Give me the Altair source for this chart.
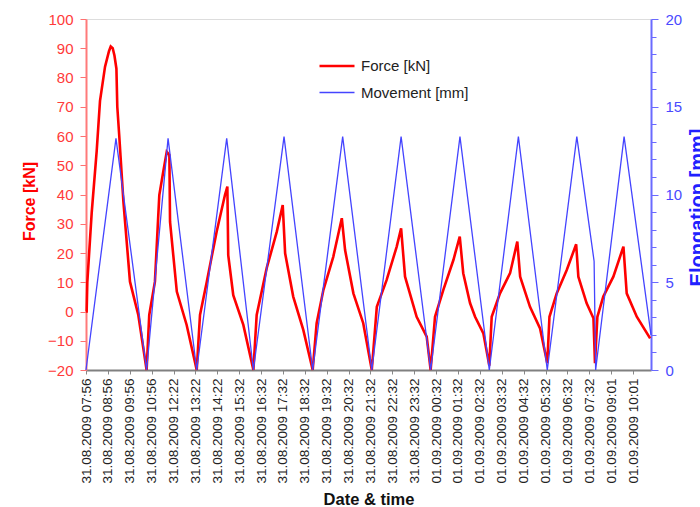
import json
import altair as alt
import pandas as pd

x_labels = [
    "31.08.2009 07:56", "31.08.2009 08:56", "31.08.2009 09:56", "31.08.2009 10:56",
    "31.08.2009 12:22", "31.08.2009 13:22", "31.08.2009 14:22", "31.08.2009 15:32",
    "31.08.2009 16:32", "31.08.2009 17:32", "31.08.2009 18:32", "31.08.2009 19:32",
    "31.08.2009 20:32", "31.08.2009 21:32", "31.08.2009 22:32", "31.08.2009 23:32",
    "01.09.2009 00:32", "01.09.2009 01:32", "01.09.2009 02:32", "01.09.2009 03:32",
    "01.09.2009 04:32", "01.09.2009 05:32", "01.09.2009 06:32", "01.09.2009 07:32",
    "01.09.2009 09:01", "01.09.2009 10:01",
]

# position along the category axis (label index units)
force_x = [0.00, 0.03, 0.06, 0.26, 0.49, 0.64, 0.87, 1.05, 1.13, 1.22, 1.30, 1.39, 1.43, 1.52, 1.71, 2.01, 2.39, 2.77,
           2.89, 3.15, 3.35, 3.53, 3.69, 3.81, 3.84, 4.15, 4.60, 5.06,
           5.21, 5.52, 5.97, 6.35, 6.46, 6.50, 6.73, 7.19, 7.65,
           7.80, 8.26, 8.72, 8.99, 9.10, 9.47, 9.93, 10.36,
           10.54, 10.85, 11.30, 11.69, 11.84, 12.22, 12.67, 13.06,
           13.29, 13.74, 14.20, 14.40, 14.58, 15.11, 15.57, 15.75,
           15.95, 16.33, 16.79, 17.08, 17.24, 17.55, 17.78, 18.16, 18.43,
           18.54, 18.92, 19.38, 19.71, 19.84, 20.29, 20.75, 21.08,
           21.18, 21.51, 21.97, 22.40, 22.50, 22.88, 23.19, 23.26,
           23.37, 23.64, 24.10, 24.56, 24.71, 25.17, 25.78]
force_kn = [0, 0, 10, 33.7, 55, 72, 83.7, 89.0, 90.6, 90.0, 87.5, 83, 70, 60, 37.5, 10.2, -1.2, -20,
            -1.2, 10.2, 39.8, 47.8, 54.6, 53.5, 30.7, 6.8, -4.6, -20,
            -1.2, 10.2, 27.3, 39.8, 42.7, 19.3, 5.6, -4.6, -20,
            -1.2, 14.9, 27.3, 36.4, 19.9, 5.1, -6.3, -20,
            -4, 7.4, 18.7, 31.9, 21, 6.2, -4, -20,
            1.6, 10.8, 22.2, 28.4, 11.9, -1.8, -8.6, -20,
            -1.8, 7.4, 17.6, 25.6, 13.1, 2.9, -1.8, -7.5, -18.5,
            -1.8, 6.2, 13.1, 23.9, 11.9, 1.6, -5.8, -17.7,
            -1.8, 6.2, 14.2, 23.0, 11.9, 2.8, -2.3, -17.7,
            -1.8, 5.1, 11.9, 22.2, 6.2, -1.8, -9.2]

move_x = [0.00, 1.37, 2.77, 3.75, 5.06, 6.43, 7.65, 9.05, 10.36, 11.73, 13.06, 14.40, 15.75,
          17.09, 18.43, 19.76, 21.08, 22.43, 23.22, 23.29, 24.59, 25.82]
move_mm = [0, 13.2, 0, 13.2, 0, 13.2, 0, 13.3, 0, 13.3, 0, 13.3, 0,
           13.3, 0, 13.3, 0, 13.3, 6.2, 0, 13.3, 2.0]

series_names = ["Force [kN]", "Movement [mm]"]
series_colors = ["#ff0000", "#4444ff"]
series_widths = [2.6, 1.3]

force_df = pd.DataFrame({"idx": force_x, "value": force_kn, "series": series_names[0]})
move_df = pd.DataFrame({"idx": move_x, "value": move_mm, "series": series_names[1]})

FONT = "Liberation Sans"
label_expr = json.dumps(x_labels).replace('"', "'") + "[datum.value]"

x_enc = alt.X(
    "idx:Q",
    scale=alt.Scale(domain=[0, 25.82], nice=False, zero=False),
    axis=alt.Axis(
        values=list(range(len(x_labels))), labelExpr=label_expr, labelAngle=270,
        labelFontSize=13.5, labelColor="#222222", labelPadding=4, labelFont=FONT,
        tickSize=4, tickColor="#888888", domainColor="#808080", domainWidth=2,
        grid=False, title="Date & time", titleFontSize=16.5, titleFontWeight="bold",
        titleColor="#111111", titleY=134, titleBaseline="alphabetic", titleFont=FONT,
        labelOverlap=False,
    ),
)

legend_spec = dict(
    orient="none", legendX=232, legendY=28, title=None, symbolType="stroke",
    symbolSize=1225, labelFontSize=15, labelColor="#222222", labelFont=FONT,
    labelOffset=5, padding=0, rowPadding=0,
)

color_enc = alt.Color(
    "series:N",
    scale=alt.Scale(domain=series_names, range=series_colors),
    legend=alt.Legend(**legend_spec),
)
width_enc = alt.StrokeWidth(
    "series:N",
    scale=alt.Scale(domain=series_names, range=series_widths),
    legend=alt.Legend(**legend_spec),
)

force_line = alt.Chart(force_df).mark_line().encode(
    x=x_enc,
    y=alt.Y(
        "value:Q",
        scale=alt.Scale(domain=[-20, 100], nice=False, zero=False),
        axis=alt.Axis(
            orient="left", values=list(range(-20, 101, 10)), grid=False,
            labelFontSize=15, labelColor="#ff3a3a", labelFont=FONT, labelPadding=7,
            tickSize=6, tickColor="#ff7070", domainColor="#ff7a7a", domainWidth=2,
            title="Force [kN]", titleColor="#ff0000", titleFontSize=16,
            titleFontWeight="bold", titleFont=FONT, titleAngle=270,
            titleBaseline="middle", titleAlign="center", titleX=-57, titleY=182,
        ),
    ),
    color=color_enc,
    strokeWidth=width_enc,
)

move_line = alt.Chart(move_df).mark_line().encode(
    x=x_enc,
    y=alt.Y(
        "value:Q",
        scale=alt.Scale(domain=[0, 20], nice=False, zero=False),
        axis=alt.Axis(
            orient="right", values=list(range(0, 21)), grid=False,
            labelExpr="datum.value % 5 === 0 ? datum.label : ''",
            labelFontSize=15, labelColor="#4a4aff", labelFont=FONT, labelPadding=7,
            tickSize={"condition": {"test": "datum.value % 5 === 0", "value": 7}, "value": 5},
            tickColor="#6a6aff", domainColor="#6a6aff", domainWidth=2,
            title="Elongation [mm]", titleColor="#2020ff", titleFontSize=20,
            titleFontWeight="bold", titleFont=FONT, titleAngle=270,
            titleBaseline="middle", titleAlign="center", titleX=46, titleY=188,
        ),
    ),
    color=color_enc,
    strokeWidth=width_enc,
)

chart = alt.layer(force_line, move_line).resolve_scale(
    y="independent"
).properties(
    width=565, height=351,
    autosize="none",
    padding={"left": 86, "top": 19, "right": 49, "bottom": 137},
    background="white",
).configure_view(
    stroke="#7a7a7a", strokeWidth=2
).configure(font=FONT)

chart.save("out.html", embed_options={"renderer": "svg", "actions": False})
